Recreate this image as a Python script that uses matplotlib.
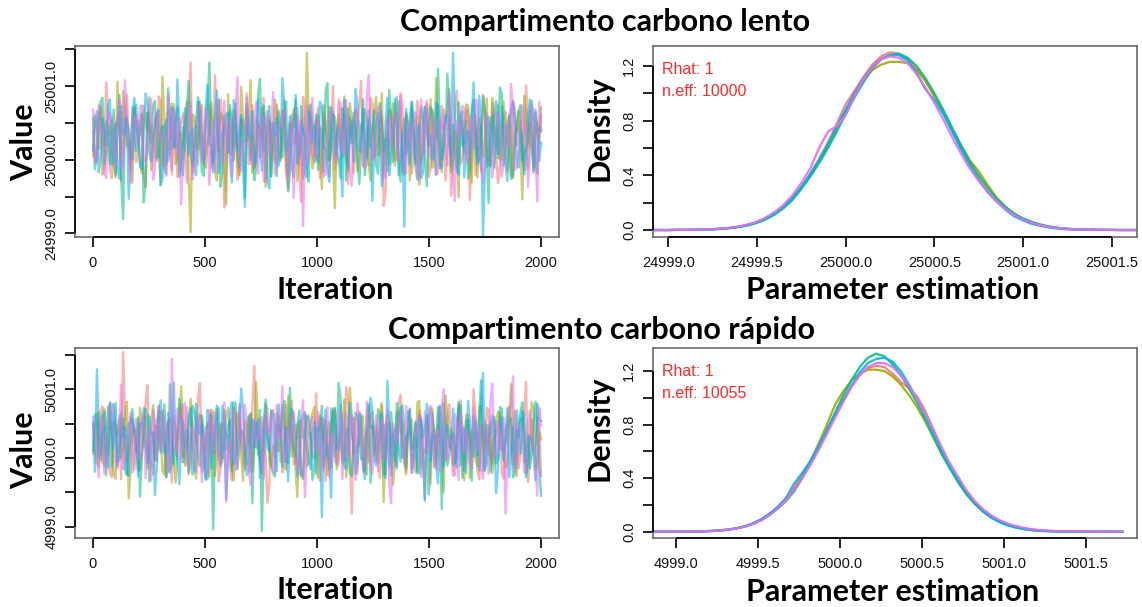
import numpy as np
import matplotlib.pyplot as plt

# chain colours (5 chains)
chain_cols = ['#F8766D', '#A3A500', '#00BF7D', '#00B0F6', '#E76BF3']

# ---- traces: thinned draws, deviation from the chain mean in hundredths ----
# "a" lists: draws at iterations 1, 18, 35, ... ; "b" lists: draws half-way between
lento_center = 25000.27
lento_c1 = [12, -31, 45, -8, 27, -52, 19, 38, -22, 61, -40, 5,
            -17, 33, -64, 24, 9, -29, 52, -11, 41, -47, 16, -3,
            36, -58, 105, -20, -34, 8, -19, 47, -26, 14, 55, -92,
            18, -7, 39, -44, 26, 63, -15, -38, 22, 4, -57, 31,
            -12, 48, -25, 17, -66, 35, 2, -43, 58, -9, 27, -31,
            44, -19, 11, -50, 73, -28, 6, 37, -60, 21, -14, 49,
            -36, 15, 57, -23, -5, 32, -71, 40, 13, -27, 64, -18,
            25, -46, 8, 34, -12, 53, -39, 19, -2, 46, -55, 28,
            -21, 67, -33, 10, 42, -16, -48, 29, 61, -37, 3, 22,
            -59, 14, 38, -24, 51, -7, 26, -41, 17, 35, -29, 9]
lento_c1b = [-25, 34, -9, 78, -41, 13, 28, -56, 20, -3, 45, -30,
             16, -48, 37, 6, -22, 59, -35, 11, -14, 42, -51, 24,
             -7, 31, -45, 18, 52, -28, 3, -39, 88, -16, 27, -43,
             38, -11, -54, 26, 9, -33, 47, -20, 14, 57, -37, 2,
             -29, 21, 40, -47, 15, -6, 33, -84, 24, 44, -19, 10,
             -52, 36, -2, 19, -40, 55, -24, 8, 30, -46, 17, 80,
             -13, -35, 49, -8, 26, -90, 12, 39, -27, 4, -44, 35,
             20, -18, 53, -32, 7, -50, 41, 15, -36, 28, -9, -76,
             46, 1, -26, 37, -82, 22, 11, -42, 34, -15, 51, -21,
             -38, 29, 5, -49, 43, 18, -31, 74, -10, -45, 24, 32]
lento_c2 = [-22, 18, 40, -37, 6, 29, -51, 13, 66, -9, -28, 44,
            3, -45, 21, 58, -16, 35, -60, 27, -4, 49, -33, 11,
            -26, 52, -125, 31, -13, 47, -38, 9, 23, -55, 36, -7,
            62, -20, 15, -48, 30, -2, 81, -35, 19, 43, -64, 25,
            -10, 37, -29, 54, -46, 12, 28, -17, -53, 118, 7, -24,
            33, -67, 20, 45, -31, 16, -8, 59, -42, 26, 41, -19,
            14, 28, -56, 39, -21, 63, -5, -34, 50, -12, 22, -47,
            5, 42, -30, -61, 24, 17, 55, -26, 8, -44, 31, 69,
            -39, 11, 26, -18, 47, -58, 34, 2, -23, 56, -36, 15,
            48, -27, 7, 32, -52, 21, -14, 60, -40, 10, 37, -6]
lento_c2b = [33, -12, -47, 25, 8, -36, 79, -21, 39, -5, -58, 17,
             -30, 46, 12, -41, 27, -15, 86, -34, 3, 48, -26, 9,
             22, -53, 35, -10, 44, -29, -6, 51, -40, 14, 30, -88,
             -17, 40, -33, 72, -2, 19, -45, 28, -24, 36, 7, -49,
             55, -20, 11, -37, 23, 42, -56, 5, -13, 31, -39, 26,
             -8, 47, -28, 13, -93, 34, 18, -22, 50, -4, -43, 21,
             41, -31, 2, 58, -18, -47, 29, 10, -35, 53, -14, 37,
             -55, 15, 32, -25, 45, -9, -38, 84, -20, 6, 39, -44,
             12, -78, 26, 48, -16, 33, -51, 20, 4, -32, 57, -11,
             -27, 52, -42, 16, -7, 38, -81, 30, 23, -36, 9, 44]
lento_c3 = [30, -14, 52, -33, 20, 8, -47, 61, -108, 25, -19, 41,
            -3, 36, -58, 14, 47, -25, 10, -39, 70, -12, 29, -50,
            17, 44, -21, -6, 58, -43, 22, 105, -31, 9, -64, 33,
            -18, 26, 50, -37, 4, 39, -27, -55, 62, 13, -8, 46,
            24, -49, 15, 31, -70, 19, 54, -22, 7, -35, 48, -13,
            -41, 9, 66, -28, 35, -16, -52, 27, 43, -4, 18, -60,
            55, -23, -11, 40, -46, 23, 2, 68, -30, 14, -57, 29,
            -7, 51, -36, 12, 28, -63, 45, -19, 96, -26, 6, 37,
            20, -44, 31, -2, -53, 42, 16, -29, 59, -15, 24, -38,
            -25, 62, -9, 34, -48, 13, 47, -20, -3, 53, -33, 18]
lento_c3b = [-40, 22, 57, -18, -33, 41, 6, -52, 29, 15, -27, 48,
             10, -85, 36, -4, 53, -23, 19, -46, 32, -9, 44, -31,
             -14, 80, -37, 25, 2, -49, 40, 13, -20, 55, -42, 7,
             47, -28, -11, 34, -79, 21, 5, -38, 83, -16, 28, -50,
             -3, 39, -24, 52, -45, 17, -32, 46, 9, -57, 23, 35,
             18, -43, 77, -12, 30, -26, 43, -55, 14, 37, -21, -1,
             -48, 27, 11, -34, 50, -15, -42, 24, 56, -30, 8, -19,
             31, -6, -54, 45, -25, 12, 38, -47, 20, -13, 90, -36,
             -22, 51, -8, 26, -39, 54, -17, 3, 42, -86, 33, 16,
             71, -35, 19, -53, 7, 40, -28, -10, 36, 24, -46, 13]
lento_c4 = [-15, 39, -26, 11, 48, -34, 22, -53, 7, 31, -9, 57,
            26, -40, 63, -18, 5, 35, -62, 20, -29, 44, -11, 16,
            -48, 23, 9, -31, 52, -20, 38, -5, -44, 67, -24, 12,
            37, -58, 27, 14, -35, 49, 3, -27, 55, -42, 19, -66,
            8, 30, -17, 44, -6, -39, 61, -23, 15, -51, 34, 21,
            -30, 46, -12, -57, 32, 10, -21, 54, -37, 25, 69, -14,
            43, -25, 17, -4, 36, -63, 24, -48, 11, 58, -20, -118,
            -9, 52, -33, 21, -45, 40, 6, -16, 47, -38, 27, -2,
            118, -24, 35, -51, 13, 29, -7, 60, -130, 19, -36, 38,
            -19, 45, -31, 8, 53, -26, 14, -47, 33, -10, 41, -29]
lento_c4b = [19, -44, 30, -7, 55, -24, -39, 46, 12, -80, 33, -15,
             -36, 8, 51, -29, 20, 41, -53, 27, -12, -2, 82, -40,
             43, -20, 16, -48, 37, -33, 75, -9, 24, -45, 11, 35,
             -26, 54, -14, 29, -91, 4, 39, -31, 15, 47, -55, 22,
             6, -35, 84, -17, 32, -50, 10, 25, -43, 38, -3, -28,
             52, -11, -41, 44, -22, 18, -77, 36, 1, -30, 49, -16,
             -5, 40, -83, 23, 14, -37, 57, -25, 30, -48, 9, 42,
             -34, 26, 13, -52, 45, -6, -27, 50, -39, 17, 34, -21,
             28, -47, 38, 2, -19, 78, -33, 11, -46, 31, -8, 53,
             -13, 20, -56, 41, 27, -38, 6, -23, 55, -42, 15, -4]
lento_c5 = [41, -20, 9, -45, 33, 17, -36, 56, -12, 24, -59, 28,
            -6, 47, -30, 19, -54, 38, 4, -23, 62, -41, 13, 30,
            -27, 15, 50, -38, 22, -9, 44, -61, 27, 6, -33, 53,
            12, -49, 36, -15, -2, 58, -29, 21, -46, 34, 9, -20,
            65, -31, 18, 40, -55, 26, -13, -34, -117, 48, 3, -22,
            29, -8, -47, 37, 14, -26, 51, -18, 6, -62, 42, 20,
            -35, 57, 11, -28, 45, -14, -51, 33, 16, -5, 60, -39,
            23, -17, 38, -56, 8, 49, -24, 31, -42, 15, -10, 64,
            -45, 26, 2, 43, -32, 18, 55, -21, -58, 36, 12, -27,
            34, -50, 21, -11, 39, -37, 25, 7, -64, 46, -16, 52]
lento_c5b = [-31, 48, 14, -52, 37, -6, 25, -41, 81, -19, -2, 34,
             45, -27, -13, 56, -38, 21, 8, -49, 31, 43, -23, -87,
             -9, 36, -54, 16, 47, -32, 27, -5, -44, 53, 12, -29,
             30, -15, 85, -42, -7, 24, -36, 51, 18, -56, 39, 3,
             -47, 20, 35, -21, 10, -79, 43, 28, -14, -33, 57, -24,
             15, -50, 26, 40, -30, 7, -17, 54, -45, 22, 33, -8,
             -39, 88, -18, 4, 44, -53, 21, -11, 37, -28, 50, -46,
             8, 29, -43, 55, -20, 35, -1, -48, 26, 41, -35, 17,
             -83, 13, 46, -25, 32, -12, 52, -37, -4, 23, -51, 38,
             25, -34, 9, 76, -41, -16, 47, 19, -26, 39, -84, 11]

rapido_center = 5000.24
rapido_c1 = [-18, 27, 44, -36, 10, -52, 23, 38, 130, -29, 6, -41,
             33, -14, 57, -25, -48, 19, 41, -8, 29, -60, 15, 36,
             -22, 50, -33, 12, 63, -45, 4, 26, -17, 47, -38, 21,
             8, -56, 31, 55, -27, 14, -42, 110, -6, 35, -19, -64,
             46, -11, 24, -37, 17, 59, -30, 2, -51, 39, 13, -24,
             -9, 34, -58, 28, 48, -32, 20, -15, 61, -105, 7, 43,
             -44, 16, 37, -21, -3, 52, -47, 25, 11, -35, 68, -13,
             22, -39, 5, 45, -26, 30, -62, 18, 40, -10, -28, 54,
             -31, 9, 60, -43, 24, -7, 36, -55, 14, 49, -20, 3,
             27, -46, 19, 51, -34, 11, -16, 42, -59, 32, -4, 23]
rapido_c1b = [22, -37, 51, -13, -46, 28, 9, -55, 40, -21, 33, -6,
              -42, 17, 82, -30, 24, -11, 45, -52, 3, 37, -26, 54,
              14, -48, 31, -3, 85, -35, 20, 42, -17, -58, 27, 6,
              -34, 50, -20, 12, -41, 36, 55, -9, -28, 19, -89, 44,
              29, -14, -45, 53, 7, -33, 25, -51, 38, 10, -23, 70,
              -57, 32, 16, -38, 49, -4, -27, 79, -12, 34, -47, 21,
              5, -31, 43, 23, -53, 15, 39, -19, -36, 56, 2, -44,
              48, -25, -8, 35, -84, 26, 13, -40, 52, -16, 30, -1,
              -49, 41, 18, -29, 6, 76, -43, 24, -10, 46, -32, 11,
              37, -54, 27, -7, 44, -39, 21, 87, -24, -13, 36, -50]
rapido_c2 = [25, -33, 12, 47, -20, 6, -54, 31, -11, 58, -37, 19,
             -42, 21, 36, -15, 53, -29, 8, -48, 27, 14, -60, 40,
             11, -24, 62, -39, 17, 33, -8, -51, 44, -19, 25, -3,
             49, -35, 4, 28, -57, 20, 39, -12, 16, -46, 55, -27,
             -6, 41, -30, 13, 66, -22, -44, 30, 5, -36, 21, 50,
             -53, 18, 29, -10, 45, -40, 9, 61, -25, 34, -16, -2,
             37, -48, 22, 7, -31, 56, -18, 26, -63, 42, 12, -28,
             15, 32, -45, 59, -14, -3, 48, -36, 23, -21, 67, -9,
             -34, 24, 10, -56, 38, 16, -26, 51, -42, 3, 29, -15,
             43, -12, -38, 27, 8, -50, 34, 19, -23, 57, -41, 14]
rapido_c2b = [-16, 43, -32, 28, 55, -47, 12, -24, 38, -83, 21, 5,
              49, -9, -39, 31, -18, 52, -43, 16, 34, -28, -4, 80,
              -35, 23, 7, -54, 40, -14, 27, 46, -50, 19, -31, 36,
              11, -57, 42, -20, 29, -6, -44, 86, -26, 8, 47, -37,
              -22, 35, 53, -41, 4, 24, -81, 30, 17, -33, 41, -12,
              38, -3, -49, 22, 45, -29, 13, -52, 78, -18, -7, 32,
              -45, 50, 20, -27, 36, -88, 15, 2, -34, 44, 26, -48,
              10, -23, 57, -40, -15, 33, 48, -30, 6, -74, 37, 18,
              -28, 54, -11, 39, -53, 14, -36, 51, 25, -19, -46, 29,
              42, -8, -33, 84, -21, 9, 34, -47, 16, 50, -38, 3]
rapido_c3 = [-13, 40, -27, 22, 51, -36, 15, -4, 33, -49, 26, 8,
             35, -21, 47, -58, 12, 29, -16, 54, -40, 19, -7, 62,
             -30, 17, 3, 44, -25, 38, -52, 10, -128, 31, -18, 46,
             23, -43, 56, -9, 14, -34, 41, 28, -19, -130, 37, -6,
             -47, 26, 11, 59, -31, 7, -22, 45, -55, 34, 16, -39,
             20, 52, -14, -41, 30, -3, 63, -28, 18, -50, 42, 9,
             -24, 35, -60, 13, 47, -17, 25, -37, 4, 56, -29, 21,
             44, -11, 29, -46, 6, 38, -33, 15, 50, -98, 27, -20,
             12, -38, 53, -15, 31, -57, 19, 40, -8, 24, -44, 36,
             -26, 48, -5, 32, -52, 17, 43, -30, 9, -16, 58, -35]
rapido_c3b = [39, -21, 12, -49, 33, 54, -30, 7, -41, 26, 47, -15,
              -80, 18, 36, -6, -27, 44, 15, -52, 83, -33, 9, 28,
              -19, -44, 52, 23, -36, 11, -55, 38, 4, 49, -24, -12,
              31, 57, -40, 16, -9, 35, -90, 27, 46, -18, 5, -34,
              -51, 21, 40, -28, 78, -13, 25, -45, 10, 37, -56, 20,
              14, -37, -5, 48, -22, 85, -31, 17, -47, 3, 35, -26,
              -42, 55, 24, -17, 39, -50, 8, 43, -29, -10, 53, -38,
              26, -4, -46, 32, 19, -77, 41, -23, 12, 56, -35, 7,
              -14, 45, -53, 30, -1, 37, -20, 89, -43, 22, -8, -32,
              50, -27, 16, 34, -48, 6, 57, -16, -39, 28, 13, -79]
rapido_c4 = [28, 105, -19, 43, -38, 11, 56, -24, 7, -45, 34, 16,
             -51, 22, -8, 37, 14, -33, 60, -17, 41, -28, 5, -62,
             30, -12, 48, -41, 19, 26, -56, 35, -3, 52, -36, 13,
             -20, 57, -30, 9, 44, -49, 18, -9, 32, -25, 61, -14,
             39, -43, 23, 2, -58, 47, 12, -27, 36, -6, -40, 28,
             15, -110, 46, -22, 33, -11, 54, -37, 21, 8, -47, 40,
             -32, 19, 64, -26, -7, 41, -53, 24, 13, -39, 50, -16,
             6, -45, 27, 38, -20, 55, -29, 10, -61, 31, 17, -4,
             48, -23, -35, 20, 59, -14, 30, -42, 100, -31, 11, 25,
             -40, 35, 9, -52, 22, 45, -18, 39, -27, 4, -57, 31]
rapido_c4b = [-44, 16, 38, -23, 57, -10, -35, 42, 21, -50, 30, -2,
              26, 49, -31, 8, -78, 34, 19, -17, -45, 86, -28, 13,
              -6, 37, -48, 55, 11, -25, 46, -39, 24, -14, 52, -84,
              41, -33, 3, 77, -20, -42, 32, 15, -53, 27, -9, 45,
              -18, 54, -37, 20, -4, 36, -51, 29, 43, -26, 10, -47,
              33, 7, -21, -82, 48, -12, 25, -40, 56, 1, -30, 39,
              -55, 22, 44, -35, 14, -5, 88, -49, 18, 35, -24, 9,
              47, -16, -43, 28, -86, 40, 6, -29, 51, -37, 23, -11,
              -32, 58, 17, -46, 31, -22, 2, 53, -41, 12, 38, -75,
              20, -27, 49, -13, -38, 24, 44, -52, 8, -19, 55, 30]
rapido_c5 = [36, -9, 24, -47, 13, 55, -30, 19, -40, 8, 42, -21,
             -14, 31, -53, 20, 46, -26, 3, 38, -44, 120, -17, 27,
             51, -35, 16, -8, 34, -59, 22, 45, -19, 10, -31, 57,
             -2, 28, -42, 49, -15, 25, -64, 33, 7, -23, 40, 14,
             -37, 53, 4, -29, 21, 36, -12, -48, 60, -20, 29, -6,
             43, -18, 30, -52, 11, -34, 47, 2, -25, 39, -56, 18,
             -10, 58, -27, 15, -43, 32, 20, -61, 26, -4, 44, -33,
             22, -46, 12, 37, -21, -7, 52, -38, 17, 48, -28, 9,
             -50, 26, 41, -16, 6, -39, 34, 23, -54, 13, 61, -24,
             30, -13, -105, 44, 95, -31, 18, -45, 27, 10, -36, 49]
rapido_c5b = [11, -52, 35, -18, 47, 2, -39, 83, -26, 14, -45, 33,
              -23, 40, -8, -57, 29, 51, -14, 22, -36, 5, 48, -30,
              56, -12, 19, -44, 37, -3, -50, 26, 42, -21, 9, -88,
              -28, 45, -35, 13, 53, -40, 24, -6, 32, -54, 17, 39,
              -46, 7, 80, -24, -11, 43, -33, 28, -81, 20, 36, -15,
              25, -42, 50, 4, -29, 16, -55, 41, -19, 31, 55, -7,
              -37, 12, -48, 38, 21, -27, 46, -90, 15, 29, -9, 52,
              3, -34, 27, -51, 44, -17, 34, 10, -43, 76, -22, -1,
              40, -56, 23, 18, -31, 49, -13, -38, 30, -47, 84, -20,
              -8, 35, -25, 53, -44, 26, 14, -33, 45, -11, -79, 23]

# ---- densities, evaluated on a 0.05 grid ----
lento_grid = np.linspace(24998.90, 25001.65, 56)
lento_d1 = [0.000, 0.000, 0.000, 0.001, 0.001, 0.002, 0.003, 0.006, 0.010, 0.016, 0.025, 0.038, 0.058, 0.086,
            0.124, 0.173, 0.238, 0.318, 0.412, 0.520, 0.640, 0.780, 0.920, 1.020, 1.120, 1.210, 1.270, 1.300,
            1.290, 1.250, 1.180, 1.090, 0.980, 0.860, 0.730, 0.600, 0.480, 0.370, 0.280, 0.210, 0.155, 0.110,
            0.075, 0.050, 0.033, 0.021, 0.013, 0.008, 0.005, 0.003, 0.002, 0.001, 0.001, 0.000, 0.000, 0.000]
lento_d2 = [0.000, 0.000, 0.000, 0.001, 0.001, 0.002, 0.003, 0.005, 0.009, 0.015, 0.024, 0.038, 0.058, 0.086,
            0.124, 0.173, 0.236, 0.312, 0.400, 0.500, 0.620, 0.750, 0.870, 0.990, 1.100, 1.170, 1.210, 1.230,
            1.230, 1.220, 1.170, 1.090, 0.980, 0.870, 0.740, 0.620, 0.510, 0.430, 0.330, 0.240, 0.170, 0.120,
            0.082, 0.055, 0.037, 0.024, 0.015, 0.009, 0.005, 0.003, 0.002, 0.001, 0.001, 0.000, 0.000, 0.000]
lento_d3 = [0.000, 0.000, 0.000, 0.001, 0.001, 0.002, 0.003, 0.005, 0.009, 0.014, 0.022, 0.034, 0.052, 0.078,
            0.113, 0.160, 0.220, 0.300, 0.390, 0.490, 0.600, 0.720, 0.850, 0.970, 1.080, 1.180, 1.250, 1.280,
            1.290, 1.260, 1.200, 1.110, 1.000, 0.880, 0.750, 0.620, 0.500, 0.400, 0.310, 0.230, 0.170, 0.120,
            0.085, 0.060, 0.040, 0.026, 0.016, 0.010, 0.006, 0.004, 0.002, 0.001, 0.001, 0.000, 0.000, 0.000]
lento_d4 = [0.000, 0.000, 0.000, 0.001, 0.001, 0.002, 0.003, 0.006, 0.010, 0.016, 0.025, 0.039, 0.059, 0.087,
            0.125, 0.174, 0.237, 0.315, 0.408, 0.514, 0.631, 0.755, 0.881, 1.000, 1.107, 1.194, 1.250, 1.280,
            1.280, 1.240, 1.150, 1.030, 0.950, 0.850, 0.720, 0.590, 0.470, 0.370, 0.280, 0.210, 0.150, 0.100,
            0.070, 0.045, 0.030, 0.018, 0.010, 0.005, 0.003, 0.002, 0.001, 0.001, 0.000, 0.000, 0.000, 0.000]
lento_d5 = [0.000, 0.000, 0.000, 0.001, 0.001, 0.002, 0.004, 0.007, 0.011, 0.017, 0.027, 0.041, 0.062, 0.092,
            0.132, 0.185, 0.255, 0.345, 0.450, 0.600, 0.720, 0.760, 0.840, 0.980, 1.100, 1.190, 1.250, 1.270,
            1.260, 1.220, 1.140, 1.040, 0.930, 0.810, 0.680, 0.560, 0.450, 0.360, 0.280, 0.210, 0.155, 0.110,
            0.077, 0.052, 0.035, 0.022, 0.014, 0.008, 0.005, 0.003, 0.002, 0.001, 0.001, 0.000, 0.000, 0.000]

rapido_grid = np.linspace(4998.87, 5001.72, 58)
rapido_d1 = [0.000, 0.000, 0.001, 0.001, 0.002, 0.003, 0.004, 0.007, 0.011, 0.017, 0.027, 0.041, 0.062, 0.092,
             0.132, 0.185, 0.250, 0.330, 0.430, 0.520, 0.630, 0.750, 0.870, 0.990, 1.090, 1.170, 1.220, 1.240,
             1.230, 1.180, 1.120, 1.070, 1.010, 0.900, 0.760, 0.610, 0.480, 0.370, 0.280, 0.210, 0.155, 0.112,
             0.080, 0.056, 0.038, 0.025, 0.016, 0.010, 0.006, 0.004, 0.003, 0.002, 0.002, 0.001, 0.001, 0.001,
             0.001, 0.000]
rapido_d2 = [0.000, 0.000, 0.000, 0.001, 0.001, 0.002, 0.003, 0.006, 0.010, 0.016, 0.026, 0.040, 0.061, 0.091,
             0.130, 0.176, 0.230, 0.310, 0.410, 0.530, 0.660, 0.800, 0.950, 1.050, 1.130, 1.180, 1.210, 1.210,
             1.200, 1.160, 1.100, 1.020, 0.930, 0.820, 0.700, 0.580, 0.480, 0.380, 0.300, 0.220, 0.160, 0.114,
             0.078, 0.052, 0.034, 0.022, 0.013, 0.008, 0.005, 0.003, 0.002, 0.001, 0.001, 0.000, 0.000, 0.000,
             0.000, 0.000]
rapido_d3 = [0.000, 0.000, 0.000, 0.001, 0.001, 0.002, 0.003, 0.005, 0.009, 0.015, 0.024, 0.038, 0.058, 0.086,
             0.124, 0.172, 0.230, 0.300, 0.400, 0.510, 0.630, 0.760, 0.890, 1.020, 1.130, 1.230, 1.300, 1.330,
             1.310, 1.250, 1.170, 1.070, 0.960, 0.840, 0.710, 0.580, 0.470, 0.370, 0.280, 0.210, 0.150, 0.105,
             0.072, 0.048, 0.031, 0.019, 0.011, 0.006, 0.003, 0.002, 0.001, 0.001, 0.000, 0.000, 0.000, 0.000,
             0.000, 0.000]
rapido_d4 = [0.000, 0.000, 0.000, 0.001, 0.001, 0.002, 0.003, 0.006, 0.010, 0.016, 0.026, 0.041, 0.063, 0.094,
             0.135, 0.185, 0.250, 0.360, 0.440, 0.530, 0.640, 0.760, 0.870, 0.980, 1.090, 1.190, 1.260, 1.290,
             1.300, 1.270, 1.200, 1.100, 0.990, 0.870, 0.740, 0.610, 0.490, 0.390, 0.300, 0.225, 0.162, 0.114,
             0.078, 0.052, 0.034, 0.021, 0.013, 0.008, 0.005, 0.003, 0.002, 0.001, 0.001, 0.000, 0.000, 0.000,
             0.000, 0.000]
rapido_d5 = [0.000, 0.000, 0.000, 0.001, 0.001, 0.002, 0.003, 0.005, 0.009, 0.015, 0.024, 0.038, 0.058, 0.086,
             0.124, 0.172, 0.236, 0.310, 0.400, 0.500, 0.610, 0.730, 0.850, 0.970, 1.080, 1.170, 1.230, 1.260,
             1.260, 1.230, 1.170, 1.090, 0.990, 0.880, 0.760, 0.630, 0.510, 0.410, 0.310, 0.230, 0.170, 0.123,
             0.088, 0.062, 0.043, 0.029, 0.019, 0.012, 0.008, 0.005, 0.003, 0.002, 0.002, 0.001, 0.001, 0.001,
             0.000, 0.000]

lento_rhat, lento_neff = '1', '10000'
rapido_rhat, rapido_neff = '1', '10055'

iter_ticks = [0, 500, 1000, 1500, 2000]
dens_yticks = [0.0, 0.2, 0.4, 0.6, 0.8, 1.0, 1.2]
dens_ylabels = ['0.0', '', '0.4', '', '0.8', '', '1.2']

big = dict(family='Lato', weight='bold', size=22, color='black')


def r_axes(ax, xticks, xlabels, yticks, ylabels, xlim, ylim):
    # base-R look: grey box, axis line only between first and last tick
    ax.set_xlim(xlim)
    ax.set_ylim(ylim)
    ax.set_xticks(xticks)
    ax.set_xticklabels(xlabels)
    ax.set_yticks(yticks)
    ax.set_yticklabels(ylabels, rotation=90, va='center')
    ax.tick_params(axis='both', direction='out', length=7, width=1.3, colors='#111111',
                   labelsize=10.5)
    ax.tick_params(axis='x', pad=7)
    ax.tick_params(axis='y', pad=5)
    for lab in ax.get_xticklabels() + ax.get_yticklabels():
        lab.set_family('Liberation Sans')
    for s in ax.spines.values():
        s.set_color('#6a6a6a')
        s.set_linewidth(1.2)
    ax.plot([xticks[0], xticks[-1]], [ylim[0], ylim[0]], color='#111111', lw=1.4,
            clip_on=False, solid_capstyle='butt', zorder=5)
    ax.plot([xlim[0], xlim[0]], [yticks[0], yticks[-1]], color='#111111', lw=1.4,
            clip_on=False, solid_capstyle='butt', zorder=5)


def trace_panel(ax, center, chains, yticks, ylabels, ylim):
    for (a, b), col in zip(chains, chain_cols):
        # merge the two thinned sets in iteration order
        xa = np.linspace(1, 1992, len(a))
        xb = np.linspace(9, 2000, len(b))
        x = np.concatenate([xa, xb])
        y = np.concatenate([a, b])
        order = np.argsort(x, kind='stable')
        ax.plot(x[order], center + y[order] / 100.0, color=col, lw=1.7, alpha=0.55)
    r_axes(ax, iter_ticks, [str(t) for t in iter_ticks], yticks, ylabels, (-80, 2080), ylim)


def density_panel(ax, grid, curves, xticks, xlim, ylim, rhat, neff):
    for vals, col in zip(curves, chain_cols):
        ax.plot(grid, vals, color=col, lw=1.6, alpha=0.9)
    r_axes(ax, xticks, ['%.1f' % t for t in xticks], dens_yticks, dens_ylabels, xlim, ylim)
    ax.text(0.018, 0.875, 'Rhat: ' + rhat, transform=ax.transAxes, color='#ff2a2a',
            fontsize=11.5, family='Liberation Sans', va='center')
    ax.text(0.018, 0.76, 'n.eff: ' + neff, transform=ax.transAxes, color='#ff2a2a',
            fontsize=11.5, family='Liberation Sans', va='center')


fig = plt.figure(figsize=(11.42, 6.07), dpi=100)
W, H = 1142.0, 607.0


def box(x0, y0, x1, y1):
    return [x0 / W, 1 - y1 / H, (x1 - x0) / W, (y1 - y0) / H]


ax1 = fig.add_axes(box(75, 46, 559, 237))
ax2 = fig.add_axes(box(653, 46, 1137, 237))
ax3 = fig.add_axes(box(75, 348, 559, 538))
ax4 = fig.add_axes(box(653, 348, 1137, 538))

trace_panel(ax1, lento_center,
            [(lento_c1, lento_c1b), (lento_c2, lento_c2b), (lento_c3, lento_c3b),
             (lento_c4, lento_c4b), (lento_c5, lento_c5b)],
            [24999.0, 24999.5, 25000.0, 25000.5, 25001.0, 25001.5],
            ['24999.0', '', '25000.0', '', '25001.0', ''], (24998.95, 25001.545))
trace_panel(ax3, rapido_center,
            [(rapido_c1, rapido_c1b), (rapido_c2, rapido_c2b), (rapido_c3, rapido_c3b),
             (rapido_c4, rapido_c4b), (rapido_c5, rapido_c5b)],
            [4999.0, 4999.5, 5000.0, 5000.5, 5001.0, 5001.5],
            ['4999.0', '', '5000.0', '', '5001.0', ''], (4998.836, 5001.60))
density_panel(ax2, lento_grid, [lento_d1, lento_d2, lento_d3, lento_d4, lento_d5],
              [24999.0, 24999.5, 25000.0, 25000.5, 25001.0, 25001.5],
              (24998.913, 25001.643), (-0.051, 1.346), lento_rhat, lento_neff)
density_panel(ax4, rapido_grid, [rapido_d1, rapido_d2, rapido_d3, rapido_d4, rapido_d5],
              [4999.0, 4999.5, 5000.0, 5000.5, 5001.0, 5001.5],
              (4998.86, 5001.81), (-0.047, 1.372), rapido_rhat, rapido_neff)

# titles and axis labels (placed in pixel positions of the original slide)
def ftext(x, y, s, rot=0):
    fig.text(x / W, 1 - y / H, s, ha='center', va='center', rotation=rot, **big)

ftext(605, 22, 'Compartimento carbono lento')
ftext(602, 330, 'Compartimento carbono rápido')
ftext(24, 142, 'Value', 90)
ftext(24, 450, 'Value', 90)
ftext(600, 128, 'Density', 90)
ftext(600, 428, 'Density', 90)
ftext(335, 290, 'Iteration')
ftext(335, 590, 'Iteration')
ftext(893, 290, 'Parameter estimation')
ftext(893, 592, 'Parameter estimation')

fig.savefig('out.png', dpi=100)
